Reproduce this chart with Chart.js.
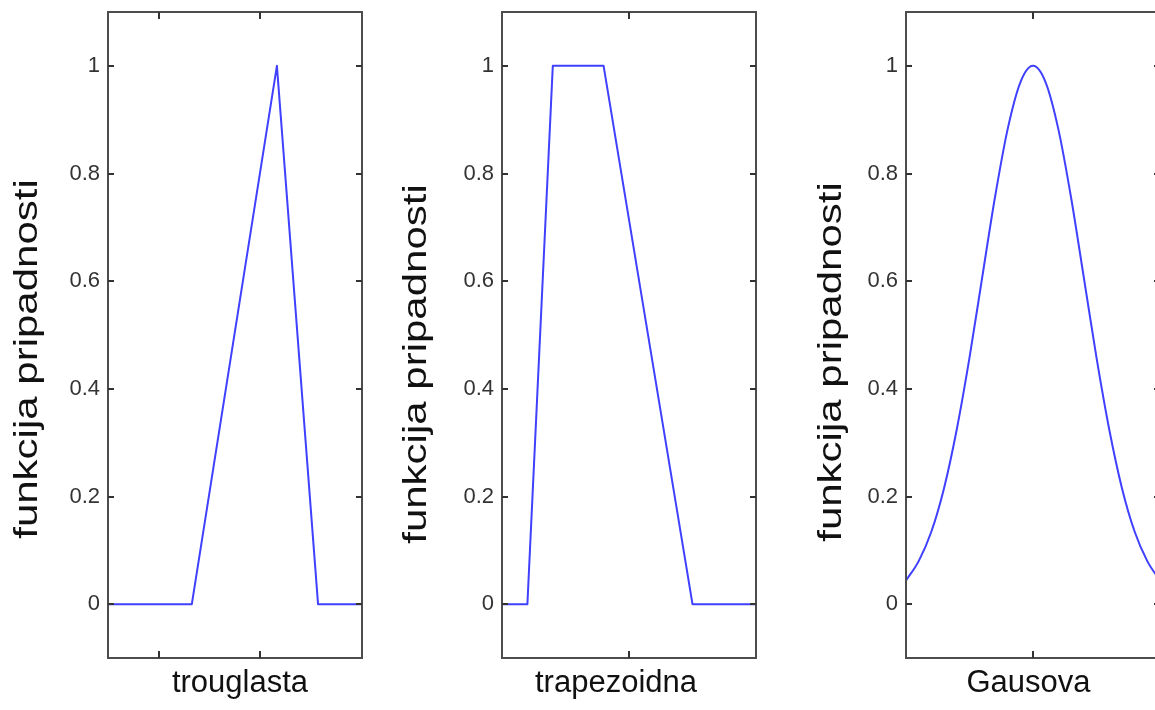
<!DOCTYPE html>
<html>
<head>
<meta charset="utf-8">
<script src="https://cdn.jsdelivr.net/npm/chart.js@4.4.1/dist/chart.umd.min.js"></script>
<style>
  html, body { margin: 0; padding: 0; background: #fff; overflow: hidden; }
  #wrap { position: relative; width: 1155px; height: 710px; overflow: hidden; }
  canvas { position: absolute; top: 0; }
</style>
</head>
<body>
<div id="wrap">
  <canvas id="p1" width="380" height="710" style="left:0px"></canvas>
  <canvas id="p2" width="380" height="710" style="left:394px"></canvas>
  <canvas id="p3" width="380" height="710" style="left:798px"></canvas>
</div>
<script>
// ---- data ----
const yTicks = [0, 0.2, 0.4, 0.6, 0.8, 1];
const yLabel = "funkcija pripadnosti";

// triangle
const triX = [0, 3.3, 6.65, 8.27, 10];
const triY = [0, 0, 1, 0, 0];
const triTicks = [2, 6];

// trapezoid
const trapX = [0, 1, 2, 4, 7.5, 10];
const trapY = [0, 0, 1, 1, 0, 0];
const trapTicks = [5];

// gaussian
const gaussX = [0, 0.5, 1, 1.5, 2, 2.5, 3, 3.5, 4, 4.5, 5, 5.5, 6, 6.5, 7, 7.5, 8, 8.5, 9, 9.5, 10];
const gaussY = [0.044, 0.080, 0.135, 0.216, 0.325, 0.458, 0.607, 0.755, 0.882, 0.969, 1,
                0.969, 0.882, 0.755, 0.607, 0.458, 0.325, 0.216, 0.135, 0.080, 0.044];
const gaussTicks = [5];

const lineColor = "rgb(64,64,255)";
const boxColor = "#4d4d4d";
const tickColor = "#333";

// box, inner tick marks and axis labels (matlab-ish look)
const frame = {
  id: "frame",
  afterDraw(chart, args, o) {
    const { ctx, chartArea: a, scales: { x, y } } = chart;
    ctx.save();
    ctx.strokeStyle = boxColor;
    ctx.lineWidth = 2;
    ctx.strokeRect(a.left, a.top, a.right - a.left, a.bottom - a.top);

    ctx.strokeStyle = tickColor;
    ctx.lineWidth = 2;
    ctx.beginPath();
    yTicks.forEach(v => {
      const py = Math.round(y.getPixelForValue(v));
      ctx.moveTo(a.left, py); ctx.lineTo(a.left + 6, py);
      ctx.moveTo(a.right, py); ctx.lineTo(a.right - 6, py);
    });
    o.xTicks.forEach(v => {
      const px = Math.round(x.getPixelForValue(v));
      ctx.moveTo(px, a.bottom); ctx.lineTo(px, a.bottom - 7);
      ctx.moveTo(px, a.top); ctx.lineTo(px, a.top + 7);
    });
    ctx.stroke();

    ctx.fillStyle = "#111";
    ctx.textAlign = "center";
    ctx.textBaseline = "alphabetic";
    ctx.font = '31px "Liberation Sans", Arial, sans-serif';
    ctx.fillText(o.xTitle, (a.left + a.right) / 2 + o.xShift, 692);

    ctx.translate(a.left + o.yOff, o.yMid);
    ctx.rotate(-Math.PI / 2);
    ctx.scale(1, 0.79);
    ctx.font = '42px "Liberation Sans", Arial, sans-serif';
    ctx.fillText(yLabel, 0, 0);
    ctx.restore();
  }
};

function makePanel(id, xs, ys, xTicks, title, xShift, yOff, yMid, smooth) {
  const ctx = document.getElementById(id).getContext("2d");
  return new Chart(ctx, {
    type: "line",
    data: {
      datasets: [{
        data: xs.map((v, i) => ({ x: v, y: ys[i] })),
        borderColor: lineColor,
        borderWidth: 2,
        borderJoinStyle: "round",
        pointRadius: 0,
        fill: false,
        cubicInterpolationMode: smooth ? "monotone" : "default",
        tension: 0
      }]
    },
    options: {
      responsive: false,
      animation: false,
      devicePixelRatio: 1,
      layout: { padding: { top: 12, right: 18, bottom: 0, left: 0 } },
      plugins: {
        legend: { display: false },
        tooltip: { enabled: false },
        frame: { xTicks, xTitle: title, xShift, yOff, yMid }
      },
      scales: {
        x: {
          type: "linear", min: 0, max: 10,
          grid: { display: false, drawTicks: false },
          border: { display: false },
          ticks: { display: false },
          afterFit: s => { s.height = 52; s.paddingLeft = 0; s.paddingRight = 0; }
        },
        y: {
          min: -0.1, max: 1.1,
          grid: { display: false, drawTicks: false },
          border: { display: false },
          afterBuildTicks: s => { s.ticks = yTicks.map(v => ({ value: v })); },
          afterFit: s => { s.width = 108; s.paddingTop = 0; s.paddingBottom = 0; },
          ticks: {
            padding: 8,
            color: "#333",
            font: { family: '"Liberation Sans", Arial, sans-serif', size: 22 },
            callback: v => String(+Number(v).toFixed(1))
          }
        }
      }
    },
    plugins: [frame]
  });
}

makePanel("p1", triX, triY, triTicks, "trouglasta", 5, -71.5, 359, false);
makePanel("p2", trapX, trapY, trapTicks, "trapezoidna", -13, -76.5, 364, false);
makePanel("p3", gaussX, gaussY, gaussTicks, "Gausova", -4.5, -65.5, 362, true);
</script>
</body>
</html>
